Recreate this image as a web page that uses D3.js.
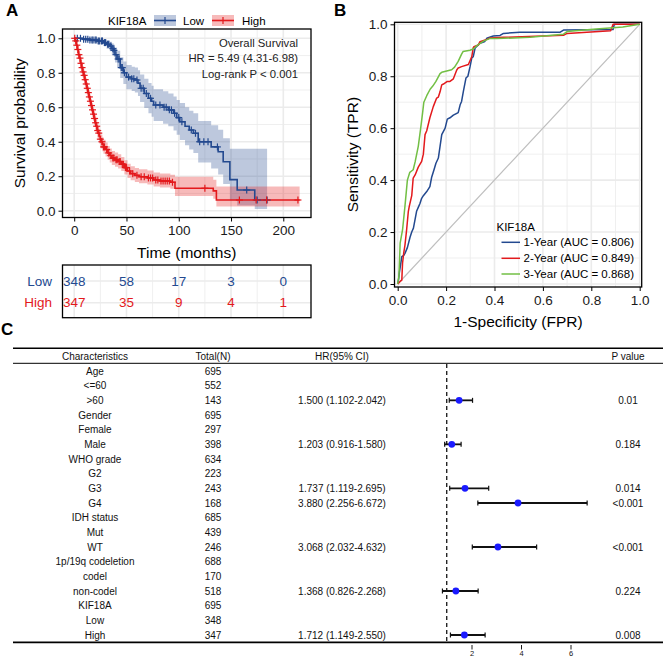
<!DOCTYPE html>
<html><head><meta charset="utf-8">
<script src="https://cdn.jsdelivr.net/npm/d3@7"></script>
<style>body{margin:0;background:#fff} svg{display:block;font-family:"Liberation Sans",Arial,sans-serif}</style>
</head><body><svg id="c" width="663" height="657"></svg>
<script>
// ---------------- Panel A: Kaplan-Meier ----------------
const lowT  = [0, 8, 15, 22, 28, 31, 34, 36, 38, 39, 41, 44, 47, 50, 55, 58, 61, 63, 67, 71, 74, 76, 85, 90, 95, 98, 101, 106, 110, 114, 118.6, 131, 137.7, 142.5, 148.9, 155.9, 172.7];
const lowS  = [1.0, .995, .99, .985, .975, .965, .955, .94, .93, .905, .88, .83, .80, .775, .765, .758, .74, .71, .68, .652, .635, .613, .60, .585, .565, .54, .516, .49, .468, .449, .40, .37, .342, .284, .18, .12, .062];
const lowHi = [1, 1, 1, .998, .993, .987, .98, .97, .963, .946, .928, .89, .865, .845, .835, .83, .815, .79, .765, .74, .725, .705, .693, .68, .662, .642, .625, .60, .58, .565, .52, .495, .47, .42, .36, .36, .36];
const lowLo = [1, .985, .977, .968, .955, .94, .925, .905, .89, .86, .83, .77, .735, .705, .695, .685, .665, .63, .595, .565, .545, .52, .505, .49, .465, .44, .41, .38, .355, .335, .28, .245, .21, .155, .06, .03, .01];
const lowEnd = 184.5;
const lowCens = [3,6,9,11,13,15,17,18,20,21,23,24,26,27,29,30,32,33,35,37,38,40,42,43,45,46,48,52,55,57,60,64,66,69,73,78,82,86,88,91,93,96,100,103,112,116,120,124,128,137,165,175,184.5];

const highT  = [0,1,2,3,4,5,6,7,8,9,10,11,12,13,14,15,16,17,18,19,20,21,22,23,24,25,26,27,28,30,32,34,36,39,42,45,48,51,54,58,62,70,76,82,92,96.4,133,136];
const highS  = [1,.985,.96,.935,.905,.885,.855,.83,.805,.785,.76,.735,.71,.685,.66,.635,.61,.585,.56,.535,.51,.49,.465,.45,.43,.415,.40,.385,.37,.355,.335,.32,.305,.295,.285,.27,.25,.23,.215,.205,.197,.19,.178,.172,.165,.13,.115,.062];
const highHi = [1,.997,.98,.96,.932,.913,.885,.862,.838,.819,.795,.771,.747,.723,.698,.674,.649,.625,.60,.576,.551,.531,.506,.491,.471,.456,.441,.426,.411,.396,.376,.361,.347,.337,.327,.312,.292,.273,.258,.248,.24,.233,.222,.216,.209,.197,.18,.14];
const highLo = [1,.972,.94,.91,.878,.857,.825,.798,.772,.751,.725,.699,.673,.647,.622,.596,.571,.545,.52,.495,.47,.45,.425,.41,.39,.375,.36,.345,.33,.315,.295,.28,.265,.255,.245,.23,.21,.19,.177,.167,.159,.152,.14,.134,.127,.085,.07,.025];
const highEnd = 215.6;
const highCens = [0.5,1.5,2.5,3.5,4.5,5.5,6.5,7.5,8.5,9.5,10.5,11.5,12.5,13.5,14.5,15.5,16.5,17.5,18.5,19.5,20.5,21.5,22.5,23.5,25,26.5,28,29,31,33,35,37,38,40,41,43,44,46,47,49,50,53,56,60,64,67,71,73,75,78,80,83,85,87,89,91,94,125,158,174,184,214];

const timeTicks = [0, 50, 100, 150, 200];
const timeMinor = [25, 75, 125, 175];
const survTicks = [0, 0.2, 0.4, 0.6, 0.8, 1.0];
const survMinor = [0.1, 0.3, 0.5, 0.7, 0.9];
const riskGroups = ["Low", "High"];
const riskLow  = [348, 58, 17, 3, 0];
const riskHigh = [347, 35, 9, 4, 1];

// ---------------- Panel B: ROC ----------------
const fpr1 = [0,.004,.007,.012,.017,.025,.03,.04,.051,.058,.065,.072,.078,.085,.092,.099,.106,.12,.133,.14,.15,.158,.168,.175,.182,.189,.196,.205,.216,.23,.25,.258,.264,.271,.282,.29,.299,.306,.312,.32,.34,.36,.368,.395,.423,.437,.505,.67,.685,.89,.895,1];
const tpr1 = [0,.02,.045,.075,.105,.11,.118,.14,.18,.2,.215,.25,.28,.295,.31,.33,.34,.356,.375,.41,.44,.465,.485,.53,.575,.588,.60,.635,.64,.65,.66,.69,.703,.74,.793,.80,.837,.87,.875,.909,.927,.934,.946,.955,.957,.965,.969,.969,.978,.98,1,1];
const fpr2 = [0,.01,.017,.02,.025,.03,.037,.044,.048,.058,.064,.072,.085,.099,.106,.113,.12,.133,.147,.161,.168,.175,.182,.189,.205,.216,.23,.244,.25,.264,.292,.306,.312,.315,.333,.34,.368,.38,.437,.685,.7,.88,.89,1];
const tpr2 = [0,.01,.015,.08,.12,.15,.21,.28,.30,.34,.408,.42,.45,.472,.50,.575,.59,.64,.683,.716,.72,.74,.767,.77,.78,.78,.79,.824,.832,.837,.845,.875,.909,.914,.92,.933,.942,.947,.95,.958,.965,.975,1,1];
const fpr3 = [0,.005,.008,.01,.02,.03,.04,.05,.064,.072,.085,.095,.103,.108,.12,.134,.145,.158,.175,.182,.223,.235,.25,.264,.27,.299,.312,.33,.354,.38,.41,.547,.685,.7,.82,.93,1];
const tpr3 = [0,.03,.10,.157,.208,.30,.40,.43,.44,.47,.53,.60,.66,.70,.725,.75,.762,.78,.81,.815,.825,.835,.857,.885,.895,.90,.905,.92,.935,.945,.945,.95,.962,.972,.982,.99,1];
const rocLabels = ["1-Year (AUC = 0.806)", "2-Year (AUC = 0.849)", "3-Year (AUC = 0.868)"];
const rocTicks = [0, 0.2, 0.4, 0.6, 0.8, 1.0];
const rocMinor = [0.1, 0.3, 0.5, 0.7, 0.9];

// ---------------- Panel C: Forest ----------------
const chars  = ["Age","<=60",">60","Gender","Female","Male","WHO grade","G2","G3","G4","IDH status","Mut","WT","1p/19q codeletion","codel","non-codel","KIF18A","Low","High"];
const totals = [695,552,143,695,297,398,634,223,243,168,685,439,246,688,170,518,695,348,347];
const hrText = ["","","1.500 (1.102-2.042)","","","1.203 (0.916-1.580)","","","1.737 (1.119-2.695)","3.880 (2.256-6.672)","","","3.068 (2.032-4.632)","","","1.368 (0.826-2.268)","","","1.712 (1.149-2.550)"];
const hrVal  = [null,null,1.500,null,null,1.203,null,null,1.737,3.880,null,null,3.068,null,null,1.368,null,null,1.712];
const hrLow  = [null,null,1.102,null,null,0.916,null,null,1.119,2.256,null,null,2.032,null,null,0.826,null,null,1.149];
const hrHigh = [null,null,2.042,null,null,1.580,null,null,2.695,6.672,null,null,4.632,null,null,2.268,null,null,2.550];
const pvals  = ["","","0.01","","","0.184","","","0.014","<0.001","","","<0.001","","","0.224","","","0.008"];
const forestTicks = [2, 4, 6];

// =====================================================
const svg = d3.select('#c');
const BLUE = '#23498f', RED = '#e3191c', GREEN = '#72bf44';
const GRID = '#ebebeb';

function panelLabel(t, x, y) {
  svg.append('text').attr('x', x).attr('y', y).attr('font-size', 17).attr('font-weight', 'bold').text(t);
}
panelLabel('A', 6, 16);
panelLabel('B', 334, 16);
panelLabel('C', 1, 335);

// ---------- A ----------
const A = {l: 62.5, r: 311, t: 29, b: 217.5};
const xA = d3.scaleLinear().domain([-11.2, 226.5]).range([A.l, A.r]);
const yA = d3.scaleLinear().domain([0, 1]).range([210.7, 38.3]);
const gA = svg.append('g');
gA.append('rect').attr('x', A.l).attr('y', A.t).attr('width', A.r - A.l).attr('height', A.b - A.t).attr('fill', '#fff');
gA.selectAll('.vmin').data(timeMinor).join('line').attr('x1', d => xA(d)).attr('x2', d => xA(d)).attr('y1', A.t).attr('y2', A.b).attr('stroke', GRID).attr('stroke-width', 0.8);
gA.selectAll('.hmin').data(survMinor).join('line').attr('y1', d => yA(d)).attr('y2', d => yA(d)).attr('x1', A.l).attr('x2', A.r).attr('stroke', GRID).attr('stroke-width', 0.8);
gA.selectAll('.vmaj').data(timeTicks).join('line').attr('x1', d => xA(d)).attr('x2', d => xA(d)).attr('y1', A.t).attr('y2', A.b).attr('stroke', GRID).attr('stroke-width', 1.6);
gA.selectAll('.hmaj').data(survTicks).join('line').attr('y1', d => yA(d)).attr('y2', d => yA(d)).attr('x1', A.l).attr('x2', A.r).attr('stroke', GRID).attr('stroke-width', 1.6);

function kmData(T, S, lo, hi, end) {
  const pts = T.map((t, i) => ({t, s: S[i], lo: lo[i], hi: hi[i]}));
  const last = pts[pts.length - 1];
  pts.push({t: end, s: last.s, lo: last.lo, hi: last.hi});
  return pts;
}
const kmLow = kmData(lowT, lowS, lowLo, lowHi, lowEnd);
const kmHigh = kmData(highT, highS, highLo, highHi, highEnd);
const area = d3.area().curve(d3.curveStepAfter).x(d => xA(d.t)).y0(d => yA(d.lo)).y1(d => yA(d.hi));
const line = d3.line().curve(d3.curveStepAfter).x(d => xA(d.t)).y(d => yA(d.s));
gA.append('path').attr('d', area(kmLow)).attr('fill', BLUE).attr('fill-opacity', 0.3);
gA.append('path').attr('d', area(kmHigh)).attr('fill', RED).attr('fill-opacity', 0.3);
gA.append('path').attr('d', line(kmLow)).attr('fill', 'none').attr('stroke', BLUE).attr('stroke-width', 1.6);
gA.append('path').attr('d', line(kmHigh)).attr('fill', 'none').attr('stroke', RED).attr('stroke-width', 1.6);
function survAt(T, S, t) { const i = d3.bisectRight(T, t) - 1; return S[Math.max(0, i)]; }
function drawCens(times, T, S, col) {
  const g = gA.append('g').attr('stroke', col).attr('stroke-width', 1.2);
  times.forEach(t => {
    const x = xA(t), y = yA(survAt(T, S, t));
    g.append('line').attr('x1', x).attr('x2', x).attr('y1', y - 3.5).attr('y2', y + 3.5);
    g.append('line').attr('x1', x - 3.5).attr('x2', x + 3.5).attr('y1', y).attr('y2', y);
  });
}
drawCens(lowCens, lowT, lowS, BLUE);
drawCens(highCens, highT, highS, RED);
gA.append('rect').attr('x', A.l).attr('y', A.t).attr('width', A.r - A.l).attr('height', A.b - A.t).attr('fill', 'none').attr('stroke', '#000').attr('stroke-width', 1.3);

function styleAxis(g, fs) {
  g.select('.domain').remove();
  g.selectAll('.tick line').attr('stroke', '#000').attr('stroke-width', 1);
  g.selectAll('.tick text').attr('font-size', fs).attr('fill', '#1a1a1a').attr('font-family', '"Liberation Sans",Arial,sans-serif');
}
const axLA = svg.append('g').attr('transform', `translate(${A.l},0)`).call(d3.axisLeft(yA).tickValues(survTicks).tickFormat(d3.format('.1f')).tickSize(4).tickPadding(3));
styleAxis(axLA, 13.5);
const axBA = svg.append('g').attr('transform', `translate(0,${A.b})`).call(d3.axisBottom(xA).tickValues(timeTicks).tickSize(4).tickPadding(4));
styleAxis(axBA, 13.5);
svg.append('text').attr('x', (A.l + A.r) / 2).attr('y', 258).attr('text-anchor', 'middle').attr('font-size', 15.5).text('Time (months)');
svg.append('text').attr('transform', `translate(25,${(A.t + A.b) / 2}) rotate(-90)`).attr('text-anchor', 'middle').attr('font-size', 15.5).text('Survival probability');

// annotation
[['Overall Survival', 46.5], ['HR = 5.49 (4.31-6.98)', 62.3], ['Log-rank P < 0.001', 78]].forEach(([t, y]) => {
  svg.append('text').attr('x', 298).attr('y', y).attr('text-anchor', 'end').attr('font-size', 11.3).attr('fill', '#222').text(t);
});

// legend A
svg.append('text').attr('x', 108).attr('y', 24.5).attr('font-size', 11.5).text('KIF18A');
[[BLUE, 154, 'Low', 183], [RED, 212, 'High', 242]].forEach(([c, x, lab, tx]) => {
  const g = svg.append('g');
  g.append('rect').attr('x', x).attr('y', 15).attr('width', 22).attr('height', 11).attr('fill', c).attr('fill-opacity', 0.3);
  g.append('line').attr('x1', x).attr('x2', x + 22).attr('y1', 20.5).attr('y2', 20.5).attr('stroke', c).attr('stroke-width', 1.6);
  g.append('line').attr('x1', x + 11).attr('x2', x + 11).attr('y1', 17).attr('y2', 24).attr('stroke', c).attr('stroke-width', 1.2);
  svg.append('text').attr('x', tx).attr('y', 24.5).attr('font-size', 11.5).text(lab);
});

// risk table
const R = {t: 265, b: 317.7};
const yR = d3.scalePoint().domain(riskGroups).range([281, 302.7]);
const gR = svg.append('g');
gR.selectAll('.rv').data(timeMinor).join('line').attr('x1', d => xA(d)).attr('x2', d => xA(d)).attr('y1', R.t).attr('y2', R.b).attr('stroke', GRID).attr('stroke-width', 0.8);
gR.selectAll('.rv2').data(timeTicks).join('line').attr('x1', d => xA(d)).attr('x2', d => xA(d)).attr('y1', R.t).attr('y2', R.b).attr('stroke', GRID).attr('stroke-width', 1.6);
gR.selectAll('.rh').data(riskGroups).join('line').attr('y1', d => yR(d)).attr('y2', d => yR(d)).attr('x1', A.l).attr('x2', A.r).attr('stroke', GRID).attr('stroke-width', 1.6);
[[riskLow, 'Low', BLUE], [riskHigh, 'High', RED]].forEach(([vals, grp, c]) => {
  gR.selectAll(null).data(vals).join('text').attr('x', (d, i) => xA(timeTicks[i])).attr('y', yR(grp) + 4.7).attr('text-anchor', 'middle').attr('font-size', 13.5).attr('fill', c).text(d => d);
  svg.append('text').attr('x', 52).attr('y', yR(grp) + 4.7).attr('text-anchor', 'end').attr('font-size', 13.5).attr('fill', c).text(grp);
});
gR.append('rect').attr('x', A.l).attr('y', R.t).attr('width', A.r - A.l).attr('height', R.b - R.t).attr('fill', 'none').attr('stroke', '#000').attr('stroke-width', 1.3);

// ---------- B ----------
const B = {l: 394.5, r: 641.7, t: 22.3, b: 287};
const xB = d3.scaleLinear().domain([0, 1]).range([397.7, 639.7]);
const yB = d3.scaleLinear().domain([0, 1]).range([284, 24.3]);
const gB = svg.append('g');
gB.selectAll('.vmin').data(rocMinor).join('line').attr('x1', d => xB(d)).attr('x2', d => xB(d)).attr('y1', B.t).attr('y2', B.b).attr('stroke', GRID).attr('stroke-width', 0.8);
gB.selectAll('.hmin').data(rocMinor).join('line').attr('y1', d => yB(d)).attr('y2', d => yB(d)).attr('x1', B.l).attr('x2', B.r).attr('stroke', GRID).attr('stroke-width', 0.8);
gB.selectAll('.vmaj').data(rocTicks).join('line').attr('x1', d => xB(d)).attr('x2', d => xB(d)).attr('y1', B.t).attr('y2', B.b).attr('stroke', GRID).attr('stroke-width', 1.6);
gB.selectAll('.hmaj').data(rocTicks).join('line').attr('y1', d => yB(d)).attr('y2', d => yB(d)).attr('x1', B.l).attr('x2', B.r).attr('stroke', GRID).attr('stroke-width', 1.6);
gB.append('line').attr('x1', xB(0)).attr('y1', yB(0)).attr('x2', xB(1)).attr('y2', yB(1)).attr('stroke', '#bebebe').attr('stroke-width', 1.2);
const rocLine = d3.line().x(d => xB(d[0])).y(d => yB(d[1]));
const rocSets = [[fpr1, tpr1, BLUE], [fpr2, tpr2, RED], [fpr3, tpr3, GREEN]];
rocSets.forEach(([f, t, c]) => {
  gB.append('path').attr('d', rocLine(f.map((v, i) => [v, t[i]]))).attr('fill', 'none').attr('stroke', c).attr('stroke-width', 1.5).attr('stroke-linejoin', 'round');
});
gB.append('rect').attr('x', B.l).attr('y', B.t).attr('width', B.r - B.l).attr('height', B.b - B.t).attr('fill', 'none').attr('stroke', '#000').attr('stroke-width', 1.3);
const axLB = svg.append('g').attr('transform', `translate(${B.l},0)`).call(d3.axisLeft(yB).tickValues(rocTicks).tickFormat(d3.format('.1f')).tickSize(4).tickPadding(3));
styleAxis(axLB, 13.5);
const axBB = svg.append('g').attr('transform', `translate(0,${B.b})`).call(d3.axisBottom(xB).tickValues(rocTicks).tickFormat(d3.format('.1f')).tickSize(4).tickPadding(4));
styleAxis(axBB, 13.5);
svg.append('text').attr('x', (B.l + B.r) / 2).attr('y', 327).attr('text-anchor', 'middle').attr('font-size', 15.5).text('1-Specificity (FPR)');
svg.append('text').attr('transform', `translate(358,${(B.t + B.b) / 2}) rotate(-90)`).attr('text-anchor', 'middle').attr('font-size', 15.5).text('Sensitivity (TPR)');
svg.append('text').attr('x', 496.5).attr('y', 230.5).attr('font-size', 11.5).text('KIF18A');
rocLabels.forEach((lab, i) => {
  const y = [242.3, 258.3, 274][i];
  svg.append('line').attr('x1', 501.5).attr('x2', 520).attr('y1', y).attr('y2', y).attr('stroke', rocSets[i][2]).attr('stroke-width', 1.5);
  svg.append('text').attr('x', 523.5).attr('y', y + 4).attr('font-size', 11.5).text(lab);
});

// ---------- C ----------
const gC = svg.append('g').attr('font-size', 10).attr('fill', '#111');
const yC = d3.scalePoint().domain(d3.range(chars.length)).range([371, 635]);
const xF = d3.scaleLinear().domain([0, 6]).range([422, 570.5]);
const colX = {ch: 95, tot: 213, hr: 342, p: 628};
gC.append('line').attr('x1', 13).attr('x2', 663).attr('y1', 348.3).attr('y2', 348.3).attr('stroke', '#000').attr('stroke-width', 1.4);
gC.append('line').attr('x1', 13).attr('x2', 663).attr('y1', 363.3).attr('y2', 363.3).attr('stroke', '#000').attr('stroke-width', 1);
gC.append('line').attr('x1', 13).attr('x2', 663).attr('y1', 642.4).attr('y2', 642.4).attr('stroke', '#000').attr('stroke-width', 1.8);
[['Characteristics', colX.ch], ['Total(N)', colX.tot], ['HR(95% CI)', colX.hr], ['P value', colX.p]].forEach(([t, x]) => {
  gC.append('text').attr('x', x).attr('y', 359.5).attr('text-anchor', 'middle').text(t);
});
gC.selectAll('.ch').data(chars).join('text').attr('x', colX.ch).attr('y', (d, i) => yC(i) + 3.5).attr('text-anchor', 'middle').text(d => d);
gC.selectAll('.tot').data(totals).join('text').attr('x', colX.tot).attr('y', (d, i) => yC(i) + 3.5).attr('text-anchor', 'middle').text(d => d);
gC.selectAll('.hr').data(hrText).join('text').attr('x', colX.hr).attr('y', (d, i) => yC(i) + 3.5).attr('text-anchor', 'middle').text(d => d);
gC.selectAll('.pv').data(pvals).join('text').attr('x', colX.p).attr('y', (d, i) => yC(i) + 3.5).attr('text-anchor', 'middle').text(d => d);
gC.append('line').attr('x1', xF(1)).attr('x2', xF(1)).attr('y1', 364).attr('y2', 642).attr('stroke', '#000').attr('stroke-width', 1.2).attr('stroke-dasharray', '4,3');
hrVal.forEach((v, i) => {
  if (v == null) return;
  const y = yC(i);
  gC.append('line').attr('x1', xF(hrLow[i])).attr('x2', xF(hrHigh[i])).attr('y1', y).attr('y2', y).attr('stroke', '#111').attr('stroke-width', 1.8);
  [hrLow[i], hrHigh[i]].forEach(e => gC.append('line').attr('x1', xF(e)).attr('x2', xF(e)).attr('y1', y - 2.5).attr('y2', y + 2.5).attr('stroke', '#111').attr('stroke-width', 1.2));
  gC.append('circle').attr('cx', xF(v)).attr('cy', y).attr('r', 3.4).attr('fill', '#1a1aff');
});
const axF = svg.append('g').attr('transform', 'translate(0,645)').call(d3.axisBottom(xF).tickValues(forestTicks).tickFormat(d3.format('d')).tickSize(4.5).tickPadding(1.5));
axF.select('.domain').remove();
axF.selectAll('.tick line').attr('stroke', '#000').attr('stroke-width', 0.9);
axF.selectAll('.tick text').attr('font-size', 7.5).attr('fill', '#111');
</script></body></html>
